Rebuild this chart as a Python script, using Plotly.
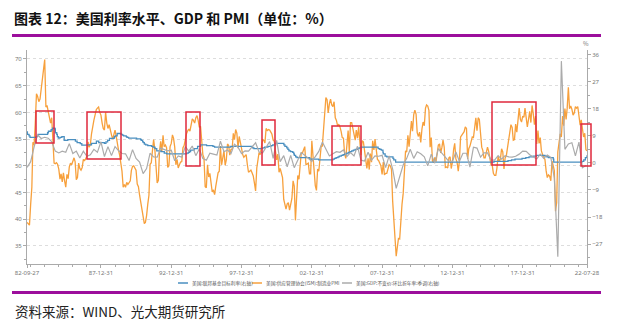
import plotly.graph_objects as go
import pandas as pd

# ---------------- data ----------------
series_names = ["美国:联邦基金目标利率(右轴)",
                "美国:供应管理协会(ISM):制造业PMI",
                "美国:GDP:不变价:环比折年率:季调(右轴)"]

x_start, x_end = "1982-09-27", "2022-07-28"
tick_dates = ["1982-09-27", "1987-12-31", "1992-12-31", "1997-12-31", "2002-12-31",
              "2007-12-31", "2012-12-31", "2017-12-31", "2022-07-28"]
tick_labels = ["82-09-27", "87-12-31", "92-12-31", "97-12-31", "02-12-31",
               "07-12-31", "12-12-31", "17-12-31", "22-07-28"]

# ISM manufacturing PMI, monthly from 1982-09 to 2022-07
pmi_values = [
    39.4, 39.0, 38.9, 42.8,                                              # 1982
    46.0, 54.4, 53.9, 58.0, 63.5, 63.0, 62.0, 62.5, 64.0, 66.4, 68.0, 69.9,  # 1983
    61.0, 61.3, 60.1, 59.5, 58.0, 59.0, 54.5, 50.5, 50.4, 50.6, 50.3, 49.4,  # 1984
    47.5, 48.5, 47.0, 48.7, 47.2, 46.0, 48.4, 47.6, 49.8, 50.5, 50.2, 50.8,  # 1985
    51.5, 50.8, 47.4, 47.8, 50.5, 49.5, 49.2, 49.7, 51.2, 51.0, 51.3, 51.9,  # 1986
    54.5, 53.5, 54.0, 56.0, 57.7, 58.5, 59.5, 60.5, 60.8, 61.0, 60.0, 59.5,  # 1987
    58.0, 57.0, 56.7, 60.0, 58.0, 57.0, 57.7, 56.5, 55.8, 55.0, 56.0, 56.7,  # 1988
    55.5, 54.0, 53.0, 52.0, 50.7, 49.0, 46.0, 46.5, 46.0, 46.9, 46.5, 47.0,  # 1989
    47.2, 49.1, 49.9, 50.0, 49.5, 49.2, 46.6, 46.1, 44.5, 43.2, 41.3, 40.8,  # 1990
    39.2, 39.4, 40.7, 42.8, 44.5, 50.3, 50.6, 52.9, 54.9, 53.1, 49.5, 46.8,  # 1991
    47.3, 52.7, 54.6, 52.6, 55.7, 53.6, 53.9, 53.4, 49.7, 50.0, 53.6, 54.2,  # 1992
    55.8, 55.2, 53.5, 50.2, 51.2, 49.6, 50.2, 50.7, 50.8, 53.4, 53.8, 55.1,  # 1993
    56.0, 56.5, 56.9, 56.5, 58.2, 58.8, 58.5, 58.0, 59.0, 59.4, 58.5, 57.2,  # 1994
    57.4, 55.1, 52.1, 51.5, 46.1, 45.9, 50.2, 47.9, 48.6, 46.8, 45.1, 45.5,  # 1995
    44.6, 46.1, 47.5, 48.7, 49.0, 53.7, 50.2, 51.7, 52.8, 50.1, 51.1, 54.1,  # 1996
    53.8, 52.0, 53.1, 53.1, 56.1, 54.9, 56.8, 56.1, 53.3, 55.5, 54.2, 53.0,  # 1997
    52.1, 51.6, 51.8, 52.1, 50.2, 48.8, 49.0, 49.2, 48.7, 48.1, 46.8, 45.3,  # 1998
    49.6, 51.2, 52.5, 52.1, 54.1, 54.9, 54.8, 54.3, 57.0, 56.6, 56.8, 56.7,  # 1999
    56.3, 55.9, 54.8, 54.6, 52.7, 51.1, 52.2, 48.8, 49.5, 48.6, 47.8, 43.7,  # 2000
    42.3, 41.9, 42.9, 43.1, 41.7, 43.3, 43.9, 47.2, 46.2, 39.8, 44.5, 48.2,  # 2001
    47.5, 50.7, 52.4, 52.4, 53.1, 53.6, 50.2, 50.3, 50.5, 48.5, 48.5, 54.7,  # 2002
    51.3, 48.8, 46.3, 45.4, 49.4, 49.0, 51.0, 53.7, 53.7, 57.0, 61.4, 62.8,  # 2003
    62.4, 59.9, 61.6, 62.5, 61.4, 61.1, 62.0, 59.0, 58.5, 57.5, 57.8, 57.3,  # 2004
    56.4, 55.3, 55.2, 52.3, 51.4, 53.8, 56.6, 52.6, 58.1, 58.1, 57.0, 55.6,  # 2005
    54.8, 56.7, 55.2, 57.3, 54.4, 52.0, 54.7, 54.5, 52.9, 51.2, 49.5, 51.4,  # 2006
    49.3, 52.3, 50.7, 54.7, 53.0, 55.0, 52.9, 51.2, 51.0, 50.4, 50.0, 48.4,  # 2007
    50.7, 48.3, 48.6, 48.6, 49.6, 50.2, 50.0, 49.3, 43.4, 38.7, 36.5, 33.1,  # 2008
    35.6, 36.4, 36.3, 40.1, 42.8, 44.8, 48.9, 52.8, 52.6, 55.7, 53.6, 55.9,  # 2009
    58.4, 56.5, 59.6, 60.4, 59.7, 56.2, 55.5, 56.3, 54.4, 56.9, 58.2, 57.5,  # 2010
    60.8, 61.4, 61.2, 60.4, 53.5, 55.3, 50.9, 50.6, 51.6, 50.8, 52.7, 53.9,  # 2011
    54.1, 52.4, 53.4, 54.8, 53.5, 49.7, 49.8, 49.6, 51.5, 51.7, 49.5, 50.7,  # 2012
    53.1, 54.2, 51.3, 50.7, 49.0, 50.9, 55.4, 55.7, 56.2, 56.4, 57.3, 57.0,  # 2013
    51.3, 53.2, 53.7, 54.9, 55.4, 55.3, 57.1, 59.0, 56.6, 59.0, 58.7, 55.5,  # 2014
    53.5, 52.9, 51.5, 51.5, 52.8, 53.5, 52.7, 51.1, 50.2, 50.1, 48.6, 48.2,  # 2015
    48.2, 49.5, 51.8, 50.8, 51.3, 53.2, 52.6, 49.4, 51.5, 51.9, 53.2, 54.7,  # 2016
    56.0, 57.7, 57.2, 54.8, 54.9, 57.8, 56.3, 58.8, 60.8, 58.7, 58.2, 59.3,  # 2017
    59.1, 60.8, 59.3, 57.3, 58.7, 60.2, 58.1, 61.3, 59.8, 57.7, 59.3, 54.1,  # 2018
    56.6, 54.2, 55.3, 52.8, 52.1, 51.7, 51.2, 49.1, 47.8, 48.3, 48.1, 47.2,  # 2019
    50.9, 50.1, 49.1, 41.5, 43.1, 52.6, 54.2, 56.0, 55.4, 59.3, 57.5, 60.7,  # 2020
    58.7, 60.8, 64.7, 60.7, 61.2, 60.6, 59.5, 59.9, 61.1, 60.8, 61.1, 58.8,  # 2021
    57.6, 58.6, 57.1, 55.4, 56.1, 53.0, 52.8,                            # 2022
]

# US real GDP, annualised q/q, quarterly 1982Q3 - 2022Q2
gdp_values = [
    -1.5, 0.4,
    5.3, 9.4, 8.1, 8.5,   8.2, 7.1, 3.9, 3.3,   3.9, 3.5, 6.4, 3.1,   3.9, 1.6, 3.9, 2.2,
    2.7, 4.5, 3.5, 7.0,   2.1, 5.4, 2.4, 5.4,   4.1, 3.1, 3.0, 0.8,   4.4, 1.5, 0.3, -3.6,
    -1.9, 3.2, 2.0, 1.9,  4.9, 4.4, 4.0, 4.2,   0.7, 2.3, 1.9, 5.4,   3.9, 5.6, 2.4, 4.7,
    1.4, 0.9, 3.2, 2.9,   2.6, 7.2, 3.7, 4.3,   3.1, 6.2, 5.2, 3.1,   4.0, 3.9, 5.3, 6.7,
    3.6, 3.3, 5.2, 7.1,   1.5, 7.5, 0.4, 2.4,   -1.3, 2.5, -1.6, 1.1, 3.4, 2.5, 1.6, 0.5,
    2.1, 3.8, 6.9, 4.8,   2.3, 3.0, 3.7, 3.5,   4.3, 2.1, 3.4, 2.3,   5.5, 0.9, 0.6, 3.5,
    0.9, 2.3, 2.2, 2.5,   -1.6, 2.3, -2.1, -8.5, -4.6, -0.7, 1.5, 4.5, 1.5, 3.7, 3.0, 2.0,
    -1.0, 2.9, -0.1, 4.7, 3.2, 1.7, 0.5, 0.5,   3.6, 0.5, 3.2, 3.2,   -1.4, 5.2, 4.9, 1.9,
    3.3, 3.3, 1.0, 0.9,   2.4, 1.2, 2.4, 2.0,   1.9, 2.2, 2.9, 3.9,   3.8, 2.7, 2.1, 1.3,
    2.9, 1.5, 2.6, 1.8,   -5.1, -31.2, 33.8, 4.5, 6.3, 6.7, 2.3, 6.9,
    -1.6, -0.9,
]

# Federal funds target rate: change dates and new levels
fed_dates = [
    "1982-09-27", "1982-10-08", "1982-11-19", "1982-12-14", "1983-05-25", "1983-06-24",
    "1983-07-14", "1984-03-15", "1984-04-05", "1984-06-15", "1984-07-19", "1984-09-20",
    "1984-10-02", "1984-11-08", "1984-11-23", "1984-12-18", "1985-01-30", "1985-03-20",
    "1985-05-20", "1985-08-21", "1986-03-07", "1986-04-21", "1986-07-11", "1986-08-21",
    "1987-01-05", "1987-04-30", "1987-09-04", "1987-11-04", "1988-03-29", "1988-05-09",
    "1988-06-22", "1988-08-09", "1988-11-22", "1988-12-15", "1989-01-05", "1989-02-24",
    "1989-06-06", "1989-07-07", "1989-08-10", "1989-10-18", "1989-11-06", "1989-12-20",
    "1990-07-13", "1990-10-29", "1990-11-13", "1990-12-18", "1991-01-09", "1991-02-01",
    "1991-03-08", "1991-04-30", "1991-08-06", "1991-09-13", "1991-10-31", "1991-11-06",
    "1991-12-20", "1992-04-09", "1992-07-02", "1992-09-04", "1994-02-04", "1994-03-22",
    "1994-04-18", "1994-05-17", "1994-08-16", "1994-11-15", "1995-02-01", "1995-07-06",
    "1995-12-19", "1996-01-31", "1997-03-25", "1998-09-29", "1998-10-15", "1998-11-17",
    "1999-06-30", "1999-08-24", "1999-11-16", "2000-02-02", "2000-03-21", "2000-05-16",
    "2001-01-03", "2001-01-31", "2001-03-20", "2001-04-18", "2001-05-15", "2001-06-27",
    "2001-08-21", "2001-09-17", "2001-10-02", "2001-11-06", "2001-12-11", "2002-11-06",
    "2003-06-25", "2004-06-30", "2004-08-10", "2004-09-21", "2004-11-10", "2004-12-14",
    "2005-02-02", "2005-03-22", "2005-05-03", "2005-06-30", "2005-08-09", "2005-09-20",
    "2005-11-01", "2005-12-13", "2006-01-31", "2006-03-28", "2006-05-10", "2006-06-29",
    "2007-09-18", "2007-10-31", "2007-12-11", "2008-01-22", "2008-01-30", "2008-03-18",
    "2008-04-30", "2008-10-08", "2008-10-29", "2008-12-16", "2015-12-16", "2016-12-14",
    "2017-03-15", "2017-06-14", "2017-12-13", "2018-03-21", "2018-06-13", "2018-09-26",
    "2018-12-19", "2019-07-31", "2019-09-18", "2019-10-30", "2020-03-03", "2020-03-16",
    "2022-03-17", "2022-05-05", "2022-06-16", "2022-07-28",
]
fed_rates = [
    10.25, 9.5, 9.0, 8.5, 8.75, 9.0,
    9.5, 10.0, 10.5, 11.0, 11.5, 11.25,
    10.0, 9.5, 8.75, 8.25, 8.5, 8.75,
    7.5, 7.75, 7.25, 6.75, 6.375, 5.875,
    6.0, 6.5, 7.25, 6.75, 6.5, 7.0,
    7.5, 8.125, 8.25, 8.75, 9.0, 9.75,
    9.5, 9.25, 9.0, 8.75, 8.5, 8.25,
    8.0, 7.75, 7.5, 7.0, 6.75, 6.25,
    6.0, 5.75, 5.5, 5.25, 5.0, 4.75,
    4.0, 3.75, 3.25, 3.0, 3.25, 3.5,
    3.75, 4.25, 4.75, 5.5, 6.0, 5.75,
    5.5, 5.25, 5.5, 5.25, 5.0, 4.75,
    5.0, 5.25, 5.5, 5.75, 6.0, 6.5,
    6.0, 5.5, 5.0, 4.5, 4.0, 3.75,
    3.5, 3.0, 2.5, 2.0, 1.75, 1.25,
    1.0, 1.25, 1.5, 1.75, 2.0, 2.25,
    2.5, 2.75, 3.0, 3.25, 3.5, 3.75,
    4.0, 4.25, 4.5, 4.75, 5.0, 5.25,
    4.75, 4.5, 4.25, 3.5, 3.0, 2.25,
    2.0, 1.5, 1.0, 0.25, 0.5, 0.75,
    1.0, 1.25, 1.5, 1.75, 2.0, 2.25,
    2.5, 2.25, 2.0, 1.75, 1.25, 0.25,
    0.5, 1.0, 1.75, 2.5,
]

left_ticks = [35, 40, 45, 50, 55, 60, 65, 70]
right_ticks = [-27, -18, -9, 0, 9, 18, 27, 36]

colors = ["#4A8FC0", "#F7A03C", "#ABABAB"]

pmi_dates = pd.date_range("1982-09-30", periods=len(pmi_values), freq="ME")
gdp_dates = pd.date_range("1982-09-30", periods=len(gdp_values), freq="QE")

# ---------------- page geometry (pixels) ----------------
W, H = 625, 334
L, R, T, B = 27, 38, 50, 70
PW, PH = W - L - R, H - T - B


def px(x):
    return (x - L) / PW


def py(y):
    return (H - B - y) / PH


fig = go.Figure()
fig.add_trace(go.Scatter(x=pd.to_datetime(fed_dates), y=fed_rates, yaxis="y2", mode="lines",
                         line=dict(color=colors[0], width=1.3, shape="hv"),
                         name=series_names[0], showlegend=False))
fig.add_trace(go.Scatter(x=pmi_dates, y=pmi_values, mode="lines",
                         line=dict(color=colors[1], width=1.3),
                         name=series_names[1], showlegend=False))
fig.add_trace(go.Scatter(x=gdp_dates, y=gdp_values, yaxis="y2", mode="lines",
                         line=dict(color=colors[2], width=1.2),
                         name=series_names[2], showlegend=False))

axis_col = "#AAAAAA"
tick_font = dict(size=6, color="#777777", family="Noto Sans")

fig.update_layout(
    width=W, height=H,
    margin=dict(l=L, r=R, t=T, b=B),
    paper_bgcolor="white", plot_bgcolor="white",
    font=dict(family="Noto Sans CJK SC, Noto Sans", color="#333"),
    xaxis=dict(type="date", range=[x_start, x_end], tickmode="array",
               tickvals=tick_dates, ticktext=tick_labels, ticks="outside", ticklen=3,
               tickcolor=axis_col, showline=True, linecolor=axis_col, linewidth=1,
               showgrid=False, zeroline=False, tickfont=tick_font, tickangle=0,
               minor=dict(ticks="outside", ticklen=2, tickcolor=axis_col,
                          dtick="M12", tick0="1982-12-31", showgrid=False)),
    yaxis=dict(range=[31.63, 71.68], tickmode="array", tickvals=left_ticks,
               ticks="outside", ticklen=3, tickcolor=axis_col, showline=True,
               linecolor=axis_col, linewidth=1, showgrid=True, gridcolor="#DDDDDD",
               griddash="dot", gridwidth=1, zeroline=False, tickfont=tick_font,
               minor=dict(ticks="outside", ticklen=2, tickcolor=axis_col, dtick=2.5,
                          tick0=35, showgrid=False)),
    yaxis2=dict(range=[-33.6, 37.5], overlaying="y", side="right", tickmode="array",
                tickvals=right_ticks, ticks="outside", ticklen=3, tickcolor=axis_col,
                showline=True, linecolor=axis_col, linewidth=1, showgrid=False,
                zeroline=False, tickfont=tick_font,
                minor=dict(ticks="outside", ticklen=2, tickcolor=axis_col, dtick=4.5,
                           tick0=0, showgrid=False)),
)

shapes = []
annotations = []
purple = "#9C0E9C"
# title and rules
annotations.append(dict(xref="paper", yref="paper", x=px(12), y=py(18), xanchor="left",
                        yanchor="middle", showarrow=False,
                        text="<b>图表 12：美国利率水平、GDP 和 PMI（单位：%）</b>",
                        font=dict(size=14, color="#111", family="Noto Sans CJK SC")))
shapes.append(dict(type="line", xref="paper", yref="paper", x0=px(12), x1=px(601),
                   y0=py(35.5), y1=py(35.5), line=dict(color=purple, width=3)))
shapes.append(dict(type="line", xref="paper", yref="paper", x0=px(12), x1=px(601),
                   y0=py(292.5), y1=py(292.5), line=dict(color=purple, width=3)))
annotations.append(dict(xref="paper", yref="paper", x=px(13), y=py(311), xanchor="left",
                        yanchor="middle", showarrow=False,
                        text="资料来源：WIND、光大期货研究所",
                        font=dict(size=13.5, color="#222", family="Noto Sans CJK SC")))
# "%" unit on right axis
annotations.append(dict(xref="paper", yref="paper", x=px(586), y=py(43), xanchor="center",
                        yanchor="middle", showarrow=False, text="%",
                        font=dict(size=6, color="#777")))

# highlight boxes (pixel positions of the reference's red frames)
boxes = [(36, 111, 54, 143), (87, 112, 121, 159), (186, 112, 200, 166),
         (262, 120, 275, 165), (332, 126, 361, 165), (492, 102, 536, 165),
         (581, 124, 591, 166)]
for x0, y0, x1, y1 in boxes:
    shapes.append(dict(type="rect", xref="paper", yref="paper", x0=px(x0), x1=px(x1),
                       y0=py(y1), y1=py(y0), line=dict(color="#E0283C", width=1.5),
                       fillcolor="rgba(0,0,0,0)", layer="above"))

# manual legend
leg_y = 283
leg_items = [(178, 188), (252, 262), (342, 352)]
for (lx0, lx1), name, col in zip(leg_items, series_names, colors):
    shapes.append(dict(type="line", xref="paper", yref="paper", x0=px(lx0), x1=px(lx1),
                       y0=py(leg_y), y1=py(leg_y), line=dict(color=col, width=1.5)))
    annotations.append(dict(xref="paper", yref="paper", x=px(lx1 + 2), y=py(leg_y),
                            xanchor="left", yanchor="middle", showarrow=False, text=name,
                            font=dict(size=4.7, color="#555", family="Noto Sans CJK SC")))

fig.update_layout(shapes=shapes, annotations=annotations)
fig.write_html("out.html")
